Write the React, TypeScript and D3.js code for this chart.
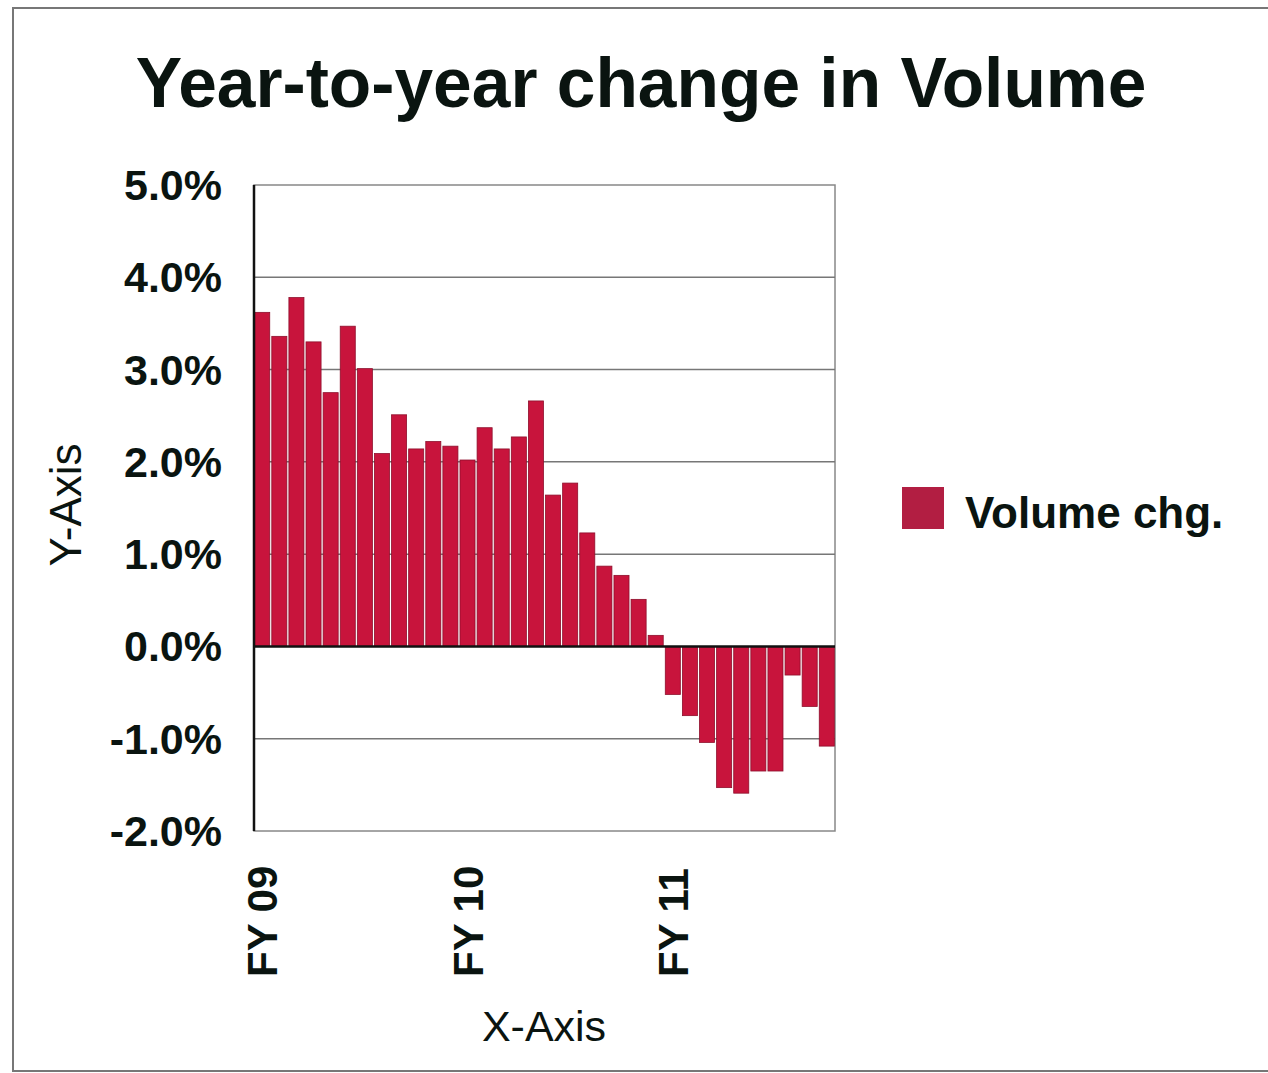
import React from "react";
import * as d3 from "d3";

// Monthly periods, fiscal years FY 09 – FY 11 (FY 11 through month 10)
const periods = [
  "FY09-01", "FY09-02", "FY09-03", "FY09-04", "FY09-05", "FY09-06",
  "FY09-07", "FY09-08", "FY09-09", "FY09-10", "FY09-11", "FY09-12",
  "FY10-01", "FY10-02", "FY10-03", "FY10-04", "FY10-05", "FY10-06",
  "FY10-07", "FY10-08", "FY10-09", "FY10-10", "FY10-11", "FY10-12",
  "FY11-01", "FY11-02", "FY11-03", "FY11-04", "FY11-05", "FY11-06",
  "FY11-07", "FY11-08", "FY11-09", "FY11-10",
];

// Year-to-year change in volume, percent
const volumeChg = [
  3.62, 3.36, 3.78, 3.30, 2.75, 3.47, 3.01, 2.09, 2.51, 2.14, 2.22, 2.17,
  2.02, 2.37, 2.14, 2.27, 2.66, 1.64, 1.77, 1.23, 0.87, 0.77, 0.51, 0.12,
  -0.52, -0.75, -1.04, -1.53, -1.59, -1.35, -1.35, -0.31, -0.65, -1.08,
];

const yTicks = [5, 4, 3, 2, 1, 0, -1, -2];
const xTickPeriods = ["FY09-01", "FY10-01", "FY11-01"];
const xTickLabels = ["FY 09", "FY 10", "FY 11"];

const title = "Year-to-year change in Volume";
const seriesName = "Volume chg.";

const W = 1268;
const H = 1073;
const plot = { left: 254, right: 835, top: 185, bottom: 831 };
const FONT = "'Liberation Sans', Arial, Helvetica, sans-serif";
const BAR = "#c8143c";

export default function App() {
  const x = d3
    .scaleBand<string>()
    .domain(periods)
    .range([plot.left, plot.right])
    .paddingInner(0.12)
    .paddingOuter(0.04);
  const y = d3.scaleLinear().domain([-2, 5]).range([plot.bottom, plot.top]);
  const fmt = (t: number) => `${t < 0 ? "-" : ""}${Math.abs(t).toFixed(1)}%`;

  return (
    <svg
      width={W}
      height={H}
      viewBox={`0 0 ${W} ${H}`}
      style={{ position: "absolute", left: 0, top: 0, display: "block", background: "#fff" }}
      fontFamily={FONT}
    >
      {/* outer frame */}
      <path d={`M1268,8 H13 V1071 H1268`} fill="none" stroke="#777" strokeWidth={2} />

      <text x={641} y={107} textAnchor="middle" fontSize={69.5} fontWeight="bold" fill="#0a1410">
        {title}
      </text>

      {/* plot area border */}
      <rect
        x={plot.left}
        y={plot.top}
        width={plot.right - plot.left}
        height={plot.bottom - plot.top}
        fill="#fff"
        stroke="#888"
        strokeWidth={1.5}
      />

      {/* gridlines */}
      {yTicks
        .filter((t) => t !== 0 && t !== 5 && t !== -2)
        .map((t) => (
          <line key={t} x1={plot.left} x2={plot.right} y1={y(t)} y2={y(t)} stroke="#777" strokeWidth={1.5} />
        ))}

      {/* bars */}
      {volumeChg.map((v, i) => {
        const p = periods[i];
        const y0 = y(Math.max(0, v));
        const h = Math.abs(y(v) - y(0));
        return (
          <rect
            key={p}
            x={x(p)}
            y={y0}
            width={x.bandwidth()}
            height={h}
            fill={BAR}
            stroke="#8e0f2c"
            strokeWidth={0.8}
          />
        );
      })}

      {/* zero line and value axis */}
      <line x1={plot.left} x2={plot.right} y1={y(0)} y2={y(0)} stroke="#111" strokeWidth={2.5} />
      <line x1={plot.left} x2={plot.left} y1={plot.top} y2={plot.bottom} stroke="#111" strokeWidth={2.5} />

      {/* y tick labels */}
      {yTicks.map((t) => (
        <text
          key={t}
          x={222}
          y={y(t)}
          dy="0.35em"
          textAnchor="end"
          fontSize={43}
          fontWeight="bold"
          fill="#0a1410"
        >
          {fmt(t)}
        </text>
      ))}

      {/* x tick labels */}
      {xTickPeriods.map((p, i) => (
        <text
          key={p}
          transform={`translate(${(x(p) ?? 0) + x.bandwidth() / 2},977) rotate(-90)`}
          dy="0.36em"
          textAnchor="start"
          fontSize={42}
          fontWeight="bold"
          fill="#0a1410"
        >
          {xTickLabels[i]}
        </text>
      ))}

      {/* axis titles */}
      <text
        transform="translate(65,505) rotate(-90)"
        dy="0.36em"
        textAnchor="middle"
        fontSize={44}
        fill="#0a1410"
      >
        Y-Axis
      </text>
      <text x={544} y={1041} textAnchor="middle" fontSize={43} fill="#0a1410">
        X-Axis
      </text>

      {/* legend */}
      <rect x={902} y={487} width={42} height={42} fill="#b21e42" />
      <text x={965} y={528} fontSize={44} fontWeight="bold" fill="#0a1410">
        {seriesName}
      </text>
    </svg>
  );
}
